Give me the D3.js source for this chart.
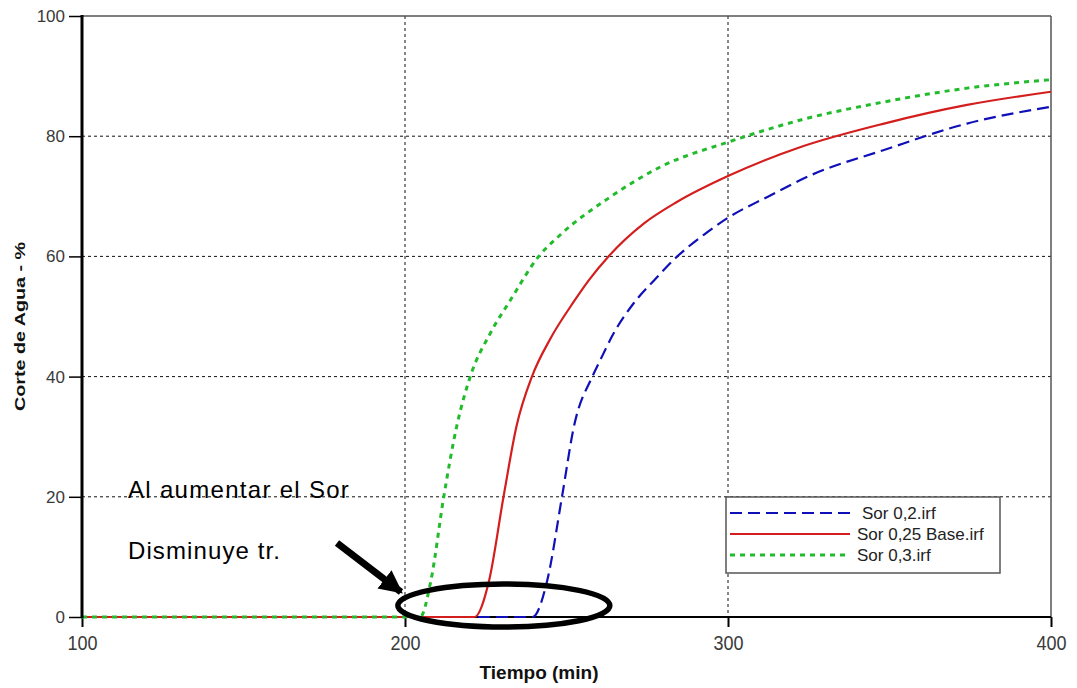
<!DOCTYPE html>
<html>
<head>
<meta charset="utf-8">
<script src="https://cdn.jsdelivr.net/npm/d3@7"></script>
<style>
  html, body { margin: 0; padding: 0; background: #fff; }
  svg { display: block; font-family: "Liberation Sans", Arial, sans-serif; }
</style>
</head>
<body>
<svg id="chart" width="1077" height="688"></svg>
<script>
// Water cut (%) vs time (min) for three residual-oil saturations
const timeSor02 = [100, 239.5, 244, 248.6, 252.3, 258, 260.5, 264.6, 270.8, 277.6, 284.3, 292.5, 300.5, 312.2, 325.6, 348.3, 374, 400];
const cutSor02  = [0, 0, 6, 20, 31.7, 40, 42.8, 47.2, 52.2, 56.3, 60, 63.6, 66.6, 69.9, 73.5, 77.7, 82.1, 84.9];

const timeSor025 = [100, 221.5, 226, 230.5, 234.5, 239.3, 245, 252.3, 257, 263, 274, 284.3, 300.5, 322.5, 348.3, 374, 400];
const cutSor025  = [0, 0, 6, 20, 31.7, 40, 46.3, 52.5, 56.1, 60, 65.5, 69.1, 73.5, 78.2, 82.1, 85.2, 87.4];

const timeSor03 = [100, 204.7, 208, 212, 216, 220.2, 226.4, 232.6, 241.4, 248.1, 263.6, 279.1, 300.5, 322.5, 348.3, 374.1, 400];
const cutSor03  = [0, 0, 6, 20, 31.7, 40, 47.2, 52.7, 60, 63.6, 69.9, 74.9, 79.1, 82.7, 85.7, 88, 89.4];

const seriesNames = ["Sor 0,2.irf", "Sor 0,25 Base.irf", "Sor 0,3.irf"];
const xTicks = [100, 200, 300, 400];
const yTicks = [0, 20, 40, 60, 80, 100];
const xTitle = "Tiempo (min)";
const yTitle = "Corte de Agua - %";
const noteLines = ["Al aumentar el Sor", "Disminuye tr."];

const series = [
  { name: seriesNames[0], t: timeSor02,  v: cutSor02,  color: "#1010b8", dash: "12,6", width: 2.2 },
  { name: seriesNames[1], t: timeSor025, v: cutSor025, color: "#d41e1e", dash: null,   width: 2.2 },
  { name: seriesNames[2], t: timeSor03,  v: cutSor03,  color: "#22bb2c", dash: "5,5",  width: 3 }
];

const svg = d3.select("#chart");
const plotL = 82, plotR = 1051, plotT = 16, plotB = 617;

const x = d3.scaleLinear().domain([100, 400]).range([plotL, plotR]);
const y = d3.scaleLinear().domain([0, 100]).range([plotB, plotT]);

// grid
const grid = svg.append("g");
grid.selectAll("line.gx").data(xTicks.filter(d => d > 100 && d < 400)).join("line")
  .attr("x1", d => x(d)).attr("x2", d => x(d)).attr("y1", plotT).attr("y2", plotB)
  .attr("stroke", "#111").attr("stroke-width", 1).attr("stroke-dasharray", "3,3");
grid.selectAll("line.gy").data(yTicks.filter(d => d > 0 && d < 100)).join("line")
  .attr("x1", plotL).attr("x2", plotR).attr("y1", d => y(d)).attr("y2", d => y(d))
  .attr("stroke", "#111").attr("stroke-width", 1).attr("stroke-dasharray", "3,3");

// frame top/right
svg.append("line").attr("x1", plotL).attr("x2", plotR).attr("y1", plotT).attr("y2", plotT)
  .attr("stroke", "#555").attr("stroke-width", 1.5);
svg.append("line").attr("x1", plotR).attr("x2", plotR).attr("y1", plotT).attr("y2", plotB)
  .attr("stroke", "#555").attr("stroke-width", 1.5);

// axes
const xAxis = d3.axisBottom(x).tickValues(xTicks).tickSize(10).tickFormat(d3.format("d"));
const yAxis = d3.axisLeft(y).tickValues(yTicks).tickSize(13).tickPadding(4).tickFormat(d3.format("d"));

const gx = svg.append("g").attr("transform", `translate(0,${plotB})`).call(xAxis);
gx.select(".domain").remove();
gx.selectAll(".tick line").attr("stroke", "#000").attr("stroke-width", 2);
gx.selectAll(".tick text")
  .attr("y", 0).attr("dy", null)
  .attr("transform", "translate(0,33) scale(1,1.17)")
  .attr("fill", "#3a3a3a").attr("font-size", 18).attr("font-family", "Liberation Sans, Arial, sans-serif");

const gy = svg.append("g").attr("transform", `translate(${plotL},0)`).call(yAxis);
gy.select(".domain").remove();
gy.selectAll(".tick line").attr("stroke", "#000").attr("stroke-width", 1.5);
gy.selectAll(".tick text").attr("fill", "#3a3a3a").attr("font-size", 17).attr("font-family", "Liberation Sans, Arial, sans-serif");

svg.append("line").attr("x1", plotL - 1).attr("x2", plotR).attr("y1", plotB).attr("y2", plotB)
  .attr("stroke", "#000").attr("stroke-width", 2);

// curves
const line = d3.line().x(d => x(d[0])).y(d => y(d[1])).curve(d3.curveMonotoneX);
series.forEach(s => {
  const pts = s.t.map((t, i) => [t, s.v[i]]);
  svg.append("path").datum(pts)
    .attr("d", line)
    .attr("fill", "none")
    .attr("stroke", s.color)
    .attr("stroke-width", s.width)
    .attr("stroke-dasharray", s.dash);
});

svg.append("line").attr("x1", plotL).attr("x2", plotL).attr("y1", plotT - 1).attr("y2", plotB + 1)
  .attr("stroke", "#000").attr("stroke-width", 3);

// axis titles
svg.append("text").attr("x", 539).attr("y", 679)
  .attr("text-anchor", "middle").attr("font-weight", "bold").attr("font-size", 19)
  .attr("fill", "#111").text(xTitle);
svg.append("text").attr("transform", `translate(25,${(plotT + plotB) / 2 + 10}) rotate(-90) scale(1.36,1)`)
  .attr("text-anchor", "middle").attr("font-weight", "bold").attr("font-size", 14.5)
  .attr("fill", "#111").text(yTitle);

// legend
const lg = svg.append("g");
lg.append("rect").attr("x", 726).attr("y", 497).attr("width", 274).attr("height", 76)
  .attr("fill", "#fff").attr("stroke", "#555").attr("stroke-width", 1.5);
const textX = [862, 857, 857];
series.forEach((s, i) => {
  const ry = 513 + i * 21;
  lg.append("line").attr("x1", 730).attr("x2", 850).attr("y1", ry).attr("y2", ry)
    .attr("stroke", s.color).attr("stroke-width", s.width).attr("stroke-dasharray", s.dash);
  lg.append("text").attr("x", textX[i]).attr("y", ry + 6).attr("font-size", 17)
    .attr("fill", "#222").text(s.name);
});

// annotation
svg.append("text").attr("x", 128).attr("y", 498).attr("font-size", 24).attr("letter-spacing", 1.3)
  .attr("fill", "#000").text(noteLines[0]);
svg.append("text").attr("x", 128).attr("y", 559).attr("font-size", 24).attr("letter-spacing", 1.1)
  .attr("fill", "#000").text(noteLines[1]);

svg.append("defs").append("marker").attr("id", "head")
  .attr("viewBox", "0 0 10 10").attr("refX", 9).attr("refY", 5)
  .attr("markerWidth", 3.3).attr("markerHeight", 3.3).attr("orient", "auto").attr("markerUnits", "strokeWidth")
  .append("path").attr("d", "M0,0 L10,5 L0,10 z").attr("fill", "#000");
svg.append("line").attr("x1", 337).attr("y1", 543).attr("x2", 401).attr("y2", 592)
  .attr("stroke", "#000").attr("stroke-width", 7).attr("marker-end", "url(#head)");

svg.append("ellipse").attr("cx", x(230.6)).attr("cy", y(1.9)).attr("rx", 106).attr("ry", 21.5)
  .attr("fill", "none").attr("stroke", "#000").attr("stroke-width", 5.5);
</script>
</body>
</html>
